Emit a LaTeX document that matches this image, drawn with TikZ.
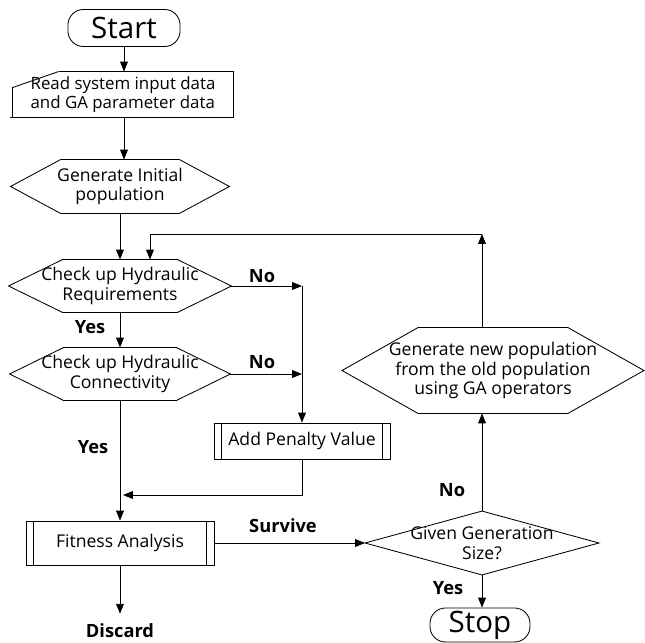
\documentclass[tikz,border=0pt]{standalone}
\usepackage{fontspec}
\setmainfont{Open Sans}
\usepackage{tikz}
\usetikzlibrary{arrows.meta}

\begin{document}
\begin{tikzpicture}[x=0.025cm,y=-0.025cm,line width=0.6pt,
  >={Triangle[length=7pt,width=5.5pt]},
  terminal/.style={draw,rounded corners=11pt,inner sep=0pt,font=\fontsize{21}{23}\selectfont},
  plain/.style={inner sep=0pt,align=center,font=\fontsize{12.5}{14}\selectfont},
  subproc/.style={draw,plain},
  answer/.style={inner sep=0pt,font=\fontsize{13}{15}\selectfont\bfseries}]
  \useasboundingbox (0,0) rectangle (645,643);
  % left column
  \node[terminal,minimum width=2.8cm,minimum height=0.925cm] (start) at (124,28) {Start};
  \node[plain,align=left,minimum width=5.5cm,minimum height=1.125cm,font=\fontsize{12}{14}\selectfont]
    (read) at (123,94.5) {Read system input data\\and GA parameter data};
  \node[plain,minimum width=5.45cm,minimum height=1.325cm] (init) at (120,186.5)
    {Generate Initial\\population};
  \node[plain,minimum width=5.55cm,minimum height=1.3cm] (req) at (120,286)
    {Check up Hydraulic\\Requirements};
  \node[plain,minimum width=5.5cm,minimum height=1.3cm] (conn) at (120,374)
    {Check up Hydraulic\\Connectivity};
  \node[subproc,minimum width=4.4cm,minimum height=0.9cm] (penalty) at (302,441)
    {Add Penalty Value};
  \node[subproc,minimum width=4.7cm,minimum height=1.1cm] (fitness) at (120,543)
    {Fitness Analysis};
  % right column
  \node[plain,minimum width=7.525cm,minimum height=2.125cm] (gennew) at (493,370.5)
    {Generate new population\\from the old population\\using GA operators};
  \node[plain,minimum width=5.825cm,minimum height=1.575cm] (given) at (482,543)
    {Given Generation\\Size?};
  \node[terminal,minimum width=2.5cm,minimum height=0.85cm] (stop) at (480,625) {Stop};
  % outlines
  \draw ([shift={(46,0)}]read.north west) -- (read.north east) -- (read.south east)
    -- ([shift={(-3,0)}]read.south west);
  \draw (read.south west) -- ([shift={(0,16)}]read.north west)
    -- ([shift={(46,0)}]read.north west);
  \foreach \n/\c in {init/50,req/54,conn/54,gennew/76}
    \draw (\n.west) -- ([shift={(\c,0)}]\n.north west) -- ([shift={(-\c,0)}]\n.north east)
      -- (\n.east) -- ([shift={(-\c,0)}]\n.south east) -- ([shift={(\c,0)}]\n.south west) -- cycle;
  \foreach \n in {penalty,fitness}
    \draw ([shift={(8,0)}]\n.north west) -- ([shift={(8,0)}]\n.south west)
      ([shift={(-8,0)}]\n.north east) -- ([shift={(-8,0)}]\n.south east);
  \draw (given.west) -- (given.north) -- (given.east) -- (given.south) -- cycle;
  % helper points
  \coordinate (jA) at (302,286);
  \coordinate (jB) at (302,374);
  \coordinate (mrg) at (123,495);
  \coordinate (fbR) at (482,234);
  \coordinate (fbL) at (150,234);
  % labels
  \node[answer] (no1) at (262,276) {No};
  \node[answer] (no2) at (262,362) {No};
  \node[answer] (yes1) at (90,327) {Yes};
  \node[answer] (yes2) at (93,447) {Yes};
  \node[answer] (surv) at (283,526) {Survive};
  \node[answer,inner ysep=7pt] (discard) at (120,631) {Discard};
  \node[answer] (no3) at (452,490) {No};
  \node[answer] (yes3) at (448,588) {Yes};
  % main flow
  \draw[->] (start.south) -- (start.south |- read.north);
  \draw[->] (start.south |- read.south) -- (start.south |- init.north);
  \draw[->] (init.south) -- (req.north);
  \draw[->] (req.south) -- (conn.north);
  \draw[->] (conn.south) -- (fitness.north);
  \draw[->] (fitness.south) -- (discard.north);
  % penalty branch
  \draw[->] (req.east) -- (jA);
  \draw[->] (conn.east) -- (jB);
  \draw[->] (jA) -- (penalty.north);
  \draw[->] (penalty.south) -- (penalty.south |- mrg) -- (mrg);
  % generation loop
  \draw[->] (fitness.east) -- (given.west);
  \draw[->] (given.south) -- (given.south |- stop.north);
  \draw[->] (given.north) -- (given.north |- gennew.south);
  \draw[->] (given.north |- gennew.north) -- (fbR);
  \draw[->] (fbR) -- (fbL) -- (fbL |- req.north);
\end{tikzpicture}
\end{document}
